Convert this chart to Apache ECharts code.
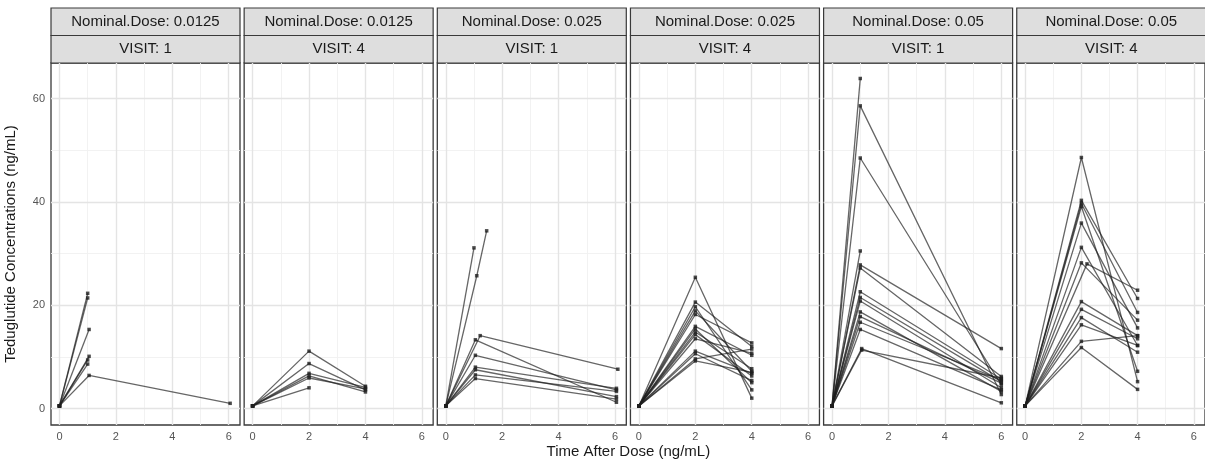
<!DOCTYPE html>
<html>
<head>
<meta charset="utf-8">
<script src="https://cdn.jsdelivr.net/npm/echarts@6/dist/echarts.min.js"></script>
<style>
html, body { margin: 0; padding: 0; background: #fff; }
#chart { width: 1205px; height: 463px; }
</style>
</head>
<body>
<div id="chart"></div>
<script>
// facet strip labels
const doseLabels = ["0.0125", "0.0125", "0.025", "0.025", "0.05", "0.05"];
const visitLabels = ["1", "4", "1", "4", "1", "4"];
const xTicks = [0, 2, 4, 6];
const xMinor = [1, 3, 5];
const yTicks = [0, 20, 40, 60];
const yMinor = [10, 30, 50];

// one entry per subject: [time after dose, concentration]
const dose0125Visit1 = [
  [[0, 0.5], [1, 22.3]],
  [[0, 0.5], [1, 21.4]],
  [[0, 0.5], [1.05, 15.3]],
  [[0, 0.5], [1.05, 10.1]],
  [[0, 0.5], [1, 9.4]],
  [[0, 0.5], [1, 8.6]],
  [[0, 0.5], [1.05, 6.4], [6.05, 1.0]]
];
const dose0125Visit4 = [
  [[0, 0.5], [2, 11.1], [4, 4.3]],
  [[0, 0.5], [2, 8.7], [4, 3.6]],
  [[0, 0.5], [2, 6.8], [4, 4.1]],
  [[0, 0.5], [2, 6.3], [4, 3.2]],
  [[0, 0.5], [2, 5.9], [4, 3.8]],
  [[0, 0.5], [2, 4.0]]
];
const dose025Visit1 = [
  [[0, 0.5], [1, 31.1]],
  [[0, 0.5], [1.1, 25.7], [1.45, 34.4]],
  [[0, 0.5], [1.22, 14.1], [6.1, 7.6]],
  [[0, 0.5], [1.05, 13.3], [6.05, 1.2]],
  [[0, 0.5], [1.05, 10.3], [6.05, 3.6]],
  [[0, 0.5], [1.05, 8.0], [6.05, 3.9]],
  [[0, 0.5], [1.05, 7.5], [6.05, 2.3]],
  [[0, 0.5], [1.05, 6.5], [6.05, 3.3]],
  [[0, 0.5], [1.05, 5.8], [6.05, 1.8]]
];
const dose025Visit4 = [
  [[0, 0.5], [2, 25.4], [4, 2.0]],
  [[0, 0.5], [2, 20.6], [4, 12.0]],
  [[0, 0.5], [2, 19.7], [4, 3.6]],
  [[0, 0.5], [2, 18.9], [4, 7.2]],
  [[0, 0.5], [2, 18.2], [4, 12.7]],
  [[0, 0.5], [2, 15.9], [4, 10.3]],
  [[0, 0.5], [2, 15.4], [4, 5.0]],
  [[0, 0.5], [2, 14.8], [4, 7.7]],
  [[0, 0.5], [2, 14.3], [4, 6.3]],
  [[0, 0.5], [2, 13.5], [4, 10.7]],
  [[0, 0.5], [2, 11.1], [4, 6.8]],
  [[0, 0.5], [2, 10.6], [4, 5.4]],
  [[0, 0.5], [2, 9.6], [4, 11.5]],
  [[0, 0.5], [2, 9.2], [4, 7.0]]
];
const dose05Visit1 = [
  [[0, 0.5], [1, 63.9]],
  [[0, 0.5], [1, 58.6], [6, 2.7]],
  [[0, 0.5], [1, 48.5], [6, 4.6]],
  [[0, 0.5], [1, 30.5]],
  [[0, 0.5], [1, 27.8], [6, 11.6]],
  [[0, 0.5], [1, 27.2], [6, 6.2]],
  [[0, 0.5], [1, 22.6], [6, 5.7]],
  [[0, 0.5], [1, 21.5], [6, 5.2]],
  [[0, 0.5], [1, 20.8], [6, 4.0]],
  [[0, 0.5], [1, 18.7], [6, 3.3]],
  [[0, 0.5], [1, 17.8], [6, 4.9]],
  [[0, 0.5], [1, 16.7], [6, 5.5]],
  [[0, 0.5], [1, 15.3], [6, 3.6]],
  [[0, 0.5], [1.05, 11.6], [6, 1.1]],
  [[0, 0.5], [1.05, 11.3], [6, 5.9]]
];
const dose05Visit4 = [
  [[0, 0.5], [2, 48.6], [4, 5.2]],
  [[0, 0.5], [2, 40.3], [4, 21.3]],
  [[0, 0.5], [2, 39.7], [4, 18.6]],
  [[0, 0.5], [2, 39.1], [4, 7.2]],
  [[0, 0.5], [2, 35.9], [4, 15.6]],
  [[0, 0.5], [2, 31.2], [4, 12.2]],
  [[0, 0.5], [2, 28.2], [4, 17.1]],
  [[0, 0.5], [2.2, 28.0], [4, 22.9]],
  [[0, 0.5], [2, 20.7], [4, 14.1]],
  [[0, 0.5], [2, 19.2], [4, 13.5]],
  [[0, 0.5], [2, 17.6], [4, 10.9]],
  [[0, 0.5], [2, 16.2], [4, 12.2]],
  [[0, 0.5], [2, 13.0], [4, 14.1]],
  [[0, 0.5], [2, 11.8], [4, 3.7]]
];
const panels = [dose0125Visit1, dose0125Visit4, dose025Visit1, dose025Visit4, dose05Visit1, dose05Visit4];

const font = "Liberation Sans, Arial, sans-serif";
const PANEL_LEFT = 51, PANEL_STEP = 193.15, PANEL_W = 189;
const PANEL_TOP = 63, PANEL_H = 362, STRIP_TOP = 8, STRIP_H = 27.5;

const grids = [], xAxes = [], yAxes = [], series = [], graphics = [];

const majorLine = { color: "#e4e4e4", width: 1.4, type: "solid" };
const minorLine = { color: "#f0f0f0", width: 0.9, type: "solid" };

panels.forEach((subjects, i) => {
  const left = PANEL_LEFT + i * PANEL_STEP;
  grids.push({
    left: left, top: PANEL_TOP, width: PANEL_W, height: PANEL_H,
    show: true, borderColor: "#3a3a3a", borderWidth: 1.3, backgroundColor: "#fff"
  });
  xAxes.push({
    gridIndex: i, type: "value", min: -0.3, max: 6.4,
    splitLine: { show: false },
    axisLine: { show: false },
    axisTick: { show: true, customValues: xTicks, length: 4, lineStyle: { color: "#333" } },
    axisLabel: { customValues: xTicks, color: "#555", fontSize: 11, margin: 6, fontFamily: font }
  });
  yAxes.push({
    gridIndex: i, type: "value", min: -3.2, max: 66.9,
    splitLine: { show: false },
    axisLine: { show: false },
    axisTick: { show: i === 0, customValues: yTicks, length: 4, lineStyle: { color: "#333" } },
    axisLabel: { show: i === 0, customValues: yTicks, color: "#555", fontSize: 11, margin: 6, fontFamily: font },
    name: i === 0 ? "Teduglutide Concentrations (ng/mL)" : "",
    nameLocation: "middle",
    nameGap: 33,
    nameTextStyle: { fontSize: 15, color: "#1a1a1a", fontFamily: font }
  });

  // panel grid lines
  const gridLines = [];
  xMinor.forEach(v => gridLines.push({ xAxis: v, lineStyle: minorLine }));
  yMinor.forEach(v => gridLines.push({ yAxis: v, lineStyle: minorLine }));
  xTicks.forEach(v => gridLines.push({ xAxis: v, lineStyle: majorLine }));
  yTicks.forEach(v => gridLines.push({ yAxis: v, lineStyle: majorLine }));
  series.push({
    type: "line", xAxisIndex: i, yAxisIndex: i, data: [], silent: true, z: 1,
    markLine: {
      silent: true, animation: false, symbol: ["none", "none"],
      label: { show: false }, z: 1, data: gridLines
    }
  });

  subjects.forEach(s => {
    series.push({
      type: "line", xAxisIndex: i, yAxisIndex: i, data: s,
      symbol: "rect", symbolSize: 3.5, showSymbol: true,
      lineStyle: { color: "rgba(30,30,30,0.68)", width: 1.3 },
      itemStyle: { color: "rgba(30,30,30,0.8)" },
      z: 5, silent: true, animation: false
    });
  });

  // facet strips
  graphics.push({
    type: "rect", shape: { x: left, y: STRIP_TOP, width: PANEL_W, height: STRIP_H },
    style: { fill: "#dedede", stroke: "#3a3a3a", lineWidth: 1.2 }
  });
  graphics.push({
    type: "rect", shape: { x: left, y: STRIP_TOP + STRIP_H, width: PANEL_W, height: PANEL_TOP - STRIP_TOP - STRIP_H },
    style: { fill: "#dedede", stroke: "#3a3a3a", lineWidth: 1.2 }
  });
  graphics.push({
    type: "text", x: left + PANEL_W / 2, y: STRIP_TOP + STRIP_H / 2,
    style: { text: "Nominal.Dose: " + doseLabels[i], fill: "#1a1a1a", fontSize: 15, fontFamily: font,
      align: "center", verticalAlign: "middle" }
  });
  graphics.push({
    type: "text", x: left + PANEL_W / 2, y: STRIP_TOP + STRIP_H + (PANEL_TOP - STRIP_TOP - STRIP_H) / 2,
    style: { text: "VISIT: " + visitLabels[i], fill: "#1a1a1a", fontSize: 15, fontFamily: font,
      align: "center", verticalAlign: "middle" }
  });
});

graphics.push({
  type: "text", x: (PANEL_LEFT + PANEL_LEFT + 5 * PANEL_STEP + PANEL_W) / 2, y: 452,
  style: { text: "Time After Dose (ng/mL)", fill: "#1a1a1a", fontSize: 15, fontFamily: font,
    align: "center", verticalAlign: "middle" }
});

const chart = echarts.init(document.getElementById("chart"));
chart.setOption({
  animation: false,
  backgroundColor: "#fff",
  grid: grids,
  xAxis: xAxes,
  yAxis: yAxes,
  series: series,
  graphic: graphics
});
</script>
</body>
</html>
